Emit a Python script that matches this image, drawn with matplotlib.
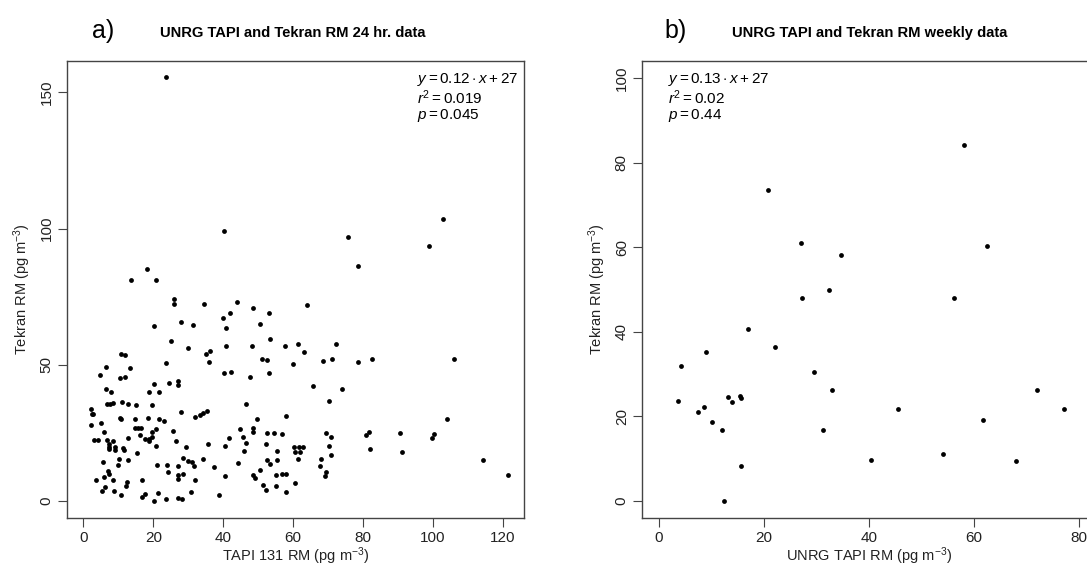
import matplotlib
matplotlib.use('Agg')
import matplotlib.pyplot as plt
import numpy as np

plt.rcParams['font.family'] = ['Liberation Sans', 'DejaVu Sans']
plt.rcParams['mathtext.fontset'] = 'custom'
plt.rcParams['mathtext.rm'] = 'Liberation Sans'
plt.rcParams['mathtext.it'] = 'Liberation Sans:italic'

# panel a: 24 hr data (TAPI 131 RM, Tekran RM)
tapi_24h = [23.5, 40.3, 102.8, 75.7, 98.8, 78.6, 18.3, 13.5, 20.7, 25.8, 25.8, 34.5, 44.0, 48.5,
            53.1, 64.1, 40.0, 41.9, 40.9, 50.4, 27.9, 31.5, 20.1, 25.2, 53.4, 30.0, 48.2, 40.9,
            57.6, 61.5, 72.2, 63.2, 35.0, 36.1, 35.9, 51.2, 52.6, 68.7, 71.2, 78.6, 82.6, 106.2,
            60.0, 23.7, 10.7, 12.0, 6.6, 13.2, 4.7, 10.4, 11.9, 40.3, 42.3, 53.0, 47.7, 20.1,
            24.6, 27.2, 27.2, 6.6, 7.9, 18.7, 21.6, 65.6, 73.9, 70.3, 46.5, 6.8, 7.6, 8.4,
            11.0, 12.9, 15.1, 19.5, 2.1, 2.4, 2.8, 27.8, 33.4, 34.1, 35.3, 31.8, 10.5, 10.8,
            14.8, 18.5, 21.7, 23.0, 49.6, 58.1, 104.0, 2.3, 4.9, 14.8, 15.5, 16.5, 20.8, 25.7,
            44.9, 48.6, 48.4, 5.8, 16.2, 19.6, 19.6, 12.7, 17.5, 18.7, 18.7, 3.0, 4.1, 6.8,
            8.6, 26.5, 45.6, 52.6, 54.5, 56.9, 69.3, 70.8, 80.9, 81.8, 90.6, 99.8, 100.2, 41.6,
            35.7, 46.4, 52.2, 7.2, 7.4, 7.4, 9.1, 9.1, 11.2, 11.5, 20.7, 29.4, 40.6, 70.3,
            60.2, 61.6, 62.8, 60.5, 61.9, 82.1, 91.3, 55.4, 45.9, 15.4, 70.8, 61.3, 28.5, 29.8,
            31.0, 31.6, 10.3, 12.9, 34.2, 52.6, 55.4, 53.3, 68.0, 5.5, 9.8, 21.2, 23.9, 27.2,
            37.3, 44.2, 67.8, 114.4, 6.9, 7.3, 24.1, 27.0, 27.0, 28.4, 40.6, 48.4, 49.1, 50.4,
            55.1, 56.7, 58.1, 69.3, 69.2, 121.4, 5.8, 3.5, 8.5, 12.6, 16.7, 31.8, 12.3, 6.1,
            5.2, 8.7, 10.8, 16.7, 17.5, 20.2, 21.3, 23.6, 27.0, 28.3, 30.7, 38.7, 51.5, 52.2,
            55.0, 57.9, 60.5]
tekran_24h = [155.6, 99.1, 103.7, 96.9, 93.6, 86.1, 85.0, 81.3, 81.1, 74.0, 72.2, 72.5, 73.1, 70.7,
              69.2, 71.9, 67.1, 69.2, 63.4, 64.9, 65.6, 64.7, 64.1, 58.9, 59.5, 56.2, 57.1, 56.8,
              56.8, 57.7, 57.5, 54.6, 54.0, 54.9, 51.0, 52.0, 51.7, 51.3, 52.2, 51.0, 52.3, 52.3,
              50.2, 50.5, 53.9, 53.7, 49.3, 48.7, 46.3, 45.1, 45.4, 46.9, 47.2, 46.9, 45.7, 43.0,
              43.4, 43.9, 42.5, 41.2, 40.2, 40.2, 40.2, 42.1, 41.2, 36.6, 35.6, 35.6, 35.7, 35.9,
              36.3, 35.7, 35.3, 35.3, 33.9, 32.0, 32.0, 32.6, 31.5, 32.4, 32.9, 30.8, 30.4, 30.2,
              30.2, 30.4, 30.0, 29.3, 30.1, 31.4, 30.0, 28.1, 28.7, 26.9, 26.7, 26.9, 26.4, 25.8,
              26.3, 26.8, 25.4, 25.4, 24.4, 23.6, 25.2, 23.0, 22.7, 21.9, 22.7, 22.4, 22.6, 22.4,
              22.2, 22.0, 23.7, 25.1, 25.1, 24.7, 25.1, 23.5, 24.4, 25.3, 25.1, 23.3, 24.7, 23.2,
              21.0, 21.3, 21.0, 20.9, 20.0, 19.2, 18.7, 19.8, 19.4, 18.8, 20.4, 20.0, 20.2, 20.4,
              19.9, 19.9, 19.9, 18.2, 18.2, 19.3, 18.1, 18.3, 18.3, 17.5, 17.1, 15.6, 16.0, 14.9,
              14.3, 12.7, 15.6, 15.0, 15.4, 15.2, 15.0, 13.6, 15.4, 14.4, 13.2, 13.2, 13.2, 12.7,
              12.6, 13.8, 13.0, 15.0, 11.1, 10.1, 10.5, 9.7, 8.2, 9.9, 9.3, 9.4, 8.6, 11.4,
              9.7, 10.1, 9.9, 10.5, 9.3, 9.5, 8.9, 7.7, 7.7, 7.1, 7.7, 7.6, 5.7, 5.3,
              3.8, 3.8, 2.1, 1.5, 2.6, 0.0, 2.9, 0.6, 1.1, 0.6, 3.2, 2.3, 6.0, 4.2,
              5.4, 3.5, 6.6]

# panel b: weekly data
tapi_week = [3.6, 4.3, 7.4, 8.6, 9.0, 10.1, 12.1, 12.4, 13.1, 14.0, 15.4, 15.6, 15.6, 17.0,
             20.7, 22.1, 27.0, 27.2, 29.6, 31.2, 32.3, 33.0, 34.7, 40.3, 45.5, 54.0, 56.1,
             58.0, 61.7, 62.5, 68.0, 72.0, 77.1]
tekran_week = [23.6, 32.0, 21.1, 22.2, 35.3, 18.6, 16.7, 0.0, 24.6, 23.5, 24.8, 24.4, 8.3, 40.7,
               73.4, 36.4, 61.1, 47.9, 30.6, 16.7, 50.0, 26.2, 58.1, 9.7, 21.7, 11.2, 47.9,
               84.1, 19.2, 60.2, 9.5, 26.2, 21.7]

fig = plt.figure(figsize=(10.87, 5.65), dpi=100)
axa = fig.add_axes([67 / 1087, 47 / 565, 457 / 1087, 457 / 565])
axb = fig.add_axes([642 / 1087, 47 / 565, 454 / 1087, 457 / 565])

box = '#444444'
txt = '#222222'
for ax in (axa, axb):
    for s in ax.spines.values():
        s.set_color(box)
        s.set_linewidth(1.0)
    ax.tick_params(direction='out', length=6.5, width=0.8, color=box,
                   labelsize=11, labelcolor=txt, pad=3)

axa.scatter(tapi_24h, tekran_24h, s=12, c='black', linewidths=0)
axa.set_xlim(-4.7, 126.1)
axa.set_ylim(-6.2, 161.5)
axa.set_xticks([0, 20, 40, 60, 80, 100, 120])
axa.set_yticks([0, 50, 100, 150])
axa.set_xlabel(r'TAPI 131 RM (pg m$^{-3}$)', fontsize=10.5, color=txt, labelpad=0)
axa.set_ylabel(r'Tekran RM (pg m$^{-3}$)', fontsize=10.5, color=txt, labelpad=5)

stats_a = [r'$y = 0.12 \cdot x + 27$', r'$r^2 = 0.019$', r'$p = 0.045$']
stats_b = [r'$y = 0.13 \cdot x + 27$', r'$r^2 = 0.02$', r'$p = 0.44$']
rows = [0.952, 0.906, 0.873]
for ax, stats, x0 in ((axa, stats_a, 0.765), (axb, stats_b, 0.058)):
    for s, yy in zip(stats, rows):
        ax.text(x0, yy, s, transform=ax.transAxes, fontsize=11, va='baseline', ha='left')

axb.scatter(tapi_week, tekran_week, s=12, c='black', linewidths=0)
axb.set_xlim(-3.2, 83.2)
axb.set_ylim(-4, 104)
axb.set_xticks([0, 20, 40, 60, 80])
axb.set_yticks([0, 20, 40, 60, 80, 100])
axb.set_xlabel(r'UNRG TAPI RM (pg m$^{-3}$)', fontsize=10.5, color=txt, labelpad=0)
axb.set_ylabel(r'Tekran RM (pg m$^{-3}$)', fontsize=10.5, color=txt, labelpad=5)

for ax in (axa, axb):
    for lab in ax.get_yticklabels():
        lab.set_rotation(90)
        lab.set_va('center')

fig.text(160 / 1087, 1 - 33 / 565, 'UNRG TAPI and Tekran RM 24 hr. data',
         fontsize=10.6, fontweight='bold', va='center', ha='left')
fig.text(732 / 1087, 1 - 33 / 565, 'UNRG TAPI and Tekran RM weekly data',
         fontsize=10.6, fontweight='bold', va='center', ha='left')
fig.text(92 / 1087, 1 - 31 / 565, 'a)', fontsize=18, va='center', ha='left')
fig.text(664 / 1087, 1 - 31 / 565, 'b)', fontsize=18, va='center', ha='left')

fig.savefig('out.png', dpi=100)
